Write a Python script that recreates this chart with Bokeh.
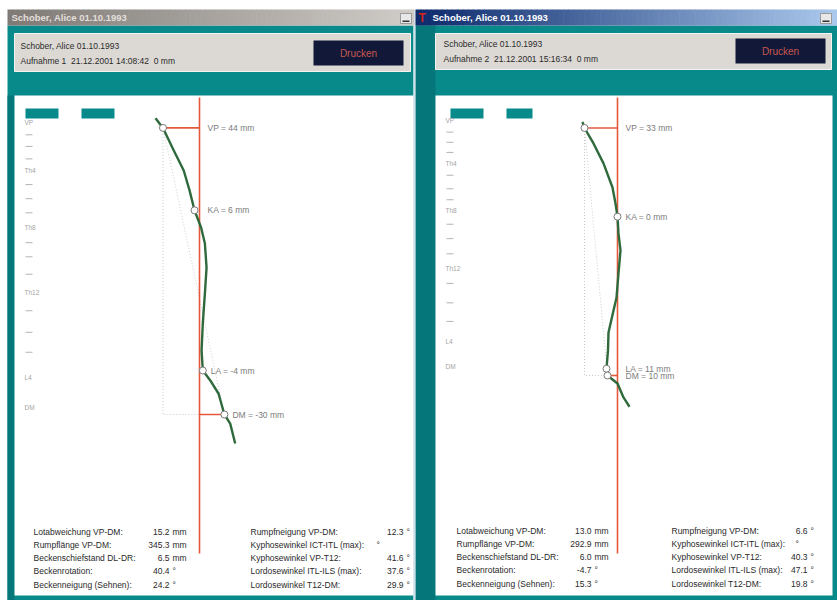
import numpy as np
from bokeh.plotting import figure
from bokeh.models import Range1d
from bokeh.core.properties import value
from bokeh.embed import file_html
from bokeh.resources import INLINE

# ---------------- data ----------------
patient = "Schober, Alice 01.10.1993"
recordings = ["Aufnahme 1\u00a0 21.12.2001 14:08:42\u00a0 0 mm",
              "Aufnahme 2\u00a0 21.12.2001 15:16:34\u00a0 0 mm"]
button_label = "Drucken"

# Recording 1 spine profile: x = offset from plumb line (mm, + = dorsal), h = height above DM (mm)
rec1_curve_x = [53, 44, 31, 19, 12, 6, -2, -6.5, -8.5, -6.5, -4, -2.5, -4, -13, -23, -30, -37, -43]
rec1_curve_h = [357, 345.3, 318, 294, 270, 246, 225, 206, 177, 146, 110, 77, 53, 41, 25, 0, -11, -35]
rec1_mark_names = ["VP", "KA", "LA", "DM"]
rec1_mark_x = [44, 6, -4, -30]
rec1_mark_h = [345.3, 246, 53, 0]
rec1_level_h = [352, 294, 225, 147, 45, 8]
rec1_tick_h = [337, 323, 308, 277, 260, 243, 207, 190, 169, 125, 99, 75]

# Recording 2 spine profile
rec2_curve_x = [35, 33, 24, 14, 5, 2, 0, -1, -3, -1, 1, 4, 9, 9.5, 11, 10, 0, -6, -12]
rec2_curve_h = [300, 292.9, 274.6, 251, 222.5, 203.6, 188, 168, 148, 121, 92, 77, 51, 30, 8, 0, -9.5, -26, -37]
rec2_mark_names = ["VP", "KA", "LA", "DM"]
rec2_mark_x = [33, 0, 11, 10]
rec2_mark_h = [292.9, 188, 8, 0]
rec2_level_h = [302, 251, 195, 127, 40, 11]
rec2_tick_h = [288, 276, 264, 237, 221, 208, 179, 162, 144, 109, 86, 64]

level_names = ["VP", "Th4", "Th8", "Th12", "L4", "DM"]

stat_names_a = ["Lotabweichung VP-DM:", "Rumpflänge VP-DM:", "Beckenschiefstand DL-DR:",
                "Beckenrotation:", "Beckenneigung (Sehnen):"]
stat_units_a = ["mm", "mm", "mm", "°", "°"]
stat_names_b = ["Rumpfneigung VP-DM:", "Kyphosewinkel ICT-ITL (max):", "Kyphosewinkel VP-T12:",
                "Lordosewinkel ITL-ILS (max):", "Lordosewinkel T12-DM:"]
rec1_stats_a = [15.2, 345.3, 6.5, 40.4, 24.2]
rec1_stats_b = [12.3, None, 41.6, 37.6, 29.9]
rec2_stats_a = [13.0, 292.9, 6.0, -4.7, 15.3]
rec2_stats_b = [6.6, None, 40.3, 47.1, 19.8]

# ---------------- styling ----------------
W, H = 837, 600
TEAL = "#088a8b"
TEAL_DARK = "#05767a"
RED = "#e4583c"
GREEN = "#2f6a3c"
FONT = value("Liberation Sans")

p = figure(width=W, height=H, x_range=Range1d(0, W), y_range=Range1d(H, 0),
           x_axis_type=None, y_axis_type=None, output_backend="svg",
           toolbar_location=None, min_border=0)
p.outline_line_color = None
p.background_fill_color = "white"
p.border_fill_color = "white"


def hex2rgb(c):
    c = c.lstrip("#")
    return np.array([int(c[i:i + 2], 16) for i in (0, 2, 4)], dtype=float)


def gradient_bar(x0, x1, y0, y1, c0, c1, n=80):
    xs = np.linspace(x0, x1, n + 1)
    a, b = hex2rgb(c0), hex2rgb(c1)
    cols = []
    for t in np.linspace(0, 1, n):
        r, g, bl = (a + (b - a) * t).round().astype(int)
        cols.append(f"#{r:02x}{g:02x}{bl:02x}")
    p.quad(left=xs[:-1], right=xs[1:] + 0.6, top=y0, bottom=y1,
           fill_color=cols, line_color=None)


def rect(l, r, t, b, color, line=None):
    p.quad(left=[l], right=[r], top=[t], bottom=[b], fill_color=color, line_color=line)


def txt(x, y, s, size="9px", color="#2a2a2a", align="left", style="normal"):
    xs = x if isinstance(x, list) else [x]
    ys = y if isinstance(y, list) else [y]
    ss = s if isinstance(s, list) else [s]
    p.text(x=xs, y=ys, text=ss, text_font=FONT, text_font_size=size, text_color=color,
           text_align=align, text_baseline="middle", text_font_style=style)


# window chrome
rect(7, 413, 25, 600, TEAL)
rect(415, 837, 25, 600, TEAL)
rect(7, 14, 95, 600, TEAL_DARK)
rect(415, 435, 25, 600, TEAL_DARK)
rect(413, 415, 9, 600, "#cfe2ea")
gradient_bar(7, 413, 9, 25, "#7f7a75", "#cfcbc6")
gradient_bar(415, 837, 9, 25, "#0c2a6c", "#aac8ec")
txt(11, 17, patient, size="9.5px", color="#e2dfdc", style="bold")
txt(432, 17, patient, size="9.5px", color="#ffffff", style="bold")
txt(418, 17, "T", size="12px", color="#d2261c", style="bold")
for l in (400, 820):
    rect(l, l + 11, 13, 23, "#e8e8e8", line="#9a9a9a")
    rect(l + 2, l + 9, 20, 21.5, "#333333")

windows = [
    dict(head=(14, 410, 33, 71), btn=(313, 403, 40, 65), tx=20, ty=(45, 60),
         plot=(14, 413), bars=[(25, 58), (81, 114)], rec=recordings[0]),
    dict(head=(435, 831, 33, 69), btn=(735, 825, 38, 63), tx=443, ty=(43, 58),
         plot=(435, 832), bars=[(450, 483), (506, 532)], rec=recordings[1]),
]
for w in windows:
    l, r, t, b = w["head"]
    rect(l, r, t, b, "#dcd9d4", line="#f4f3f1")
    bl, br, bt, bb = w["btn"]
    rect(bl, br, bt, bb, "#111838")
    txt((bl + br) / 2, (bt + bb) / 2, button_label, size="10px", color="#c9574f", align="center")
    txt(w["tx"], w["ty"][0], patient, size="8.5px")
    txt(w["tx"], w["ty"][1], w["rec"], size="8.5px")
    pl, pr = w["plot"]
    rect(pl, pr, 95, 595, "white")
    for a, c in w["bars"]:
        rect(a, c, 108, 118, TEAL)


# ---------------- profiles ----------------
xr, yr = {}, {}


def panel_ranges(name, plumb_px, dm_py, sx, sy):
    xr[name] = Range1d(plumb_px / sx, (plumb_px - W) / sx)
    yr[name] = Range1d((dm_py - H) / sy, dm_py / sy)


panel_ranges("rec1", 199, 414, 0.83, 0.83)
panel_ranges("rec2", 617, 375, 1.0, 0.845)
p.extra_x_ranges = xr
p.extra_y_ranges = yr


def draw_profile(name, plumb_px, dm_py, sx, sy, cx, ch, names, mx, mh,
                 level_h, tick_h, tick_px):
    kw = dict(x_range_name=name, y_range_name=name)

    def to_x(px):
        return (plumb_px - px) / sx

    def to_h(py):
        return (dm_py - py) / sy

    vx, vh, dx, dh = mx[0], mh[0], mx[-1], mh[-1]
    # construction lines for the plumb deviation
    p.line([vx, vx, 0], [vh, dh, dh], line_color="#c9c9c9", line_dash="1 2", line_width=1, **kw)
    p.line([vx, dx], [vh, dh], line_color="#cdcdcd", line_dash="1 2", line_width=1, **kw)
    # plumb line and offsets
    p.segment(x0=[0], y0=[to_h(97)], x1=[0], y1=[to_h(553)], line_color=RED, line_width=1.6, **kw)
    p.segment(x0=[vx, dx], y0=[vh, dh], x1=[0, 0], y1=[vh, dh], line_color=RED, line_width=1.6, **kw)
    # spine curve and landmarks
    p.line(cx, ch, line_color=GREEN, line_width=2.4, **kw)
    p.scatter(mx, mh, size=7, fill_color="white", line_color="#7a7a7a", line_width=1, **kw)
    p.text(x=[min(v, 0) for v in mx], y=mh, text=[f"{n} = {v:g} mm" for n, v in zip(names, mx)],
           x_offset=8, text_font=FONT, text_font_size="8.5px", text_color="#7c7c7c",
           text_baseline="middle", **kw)
    # level scale
    p.segment(x0=[to_x(tick_px)] * len(tick_h), x1=[to_x(tick_px + 7)] * len(tick_h),
              y0=tick_h, y1=tick_h, line_color="#b4b4b4", line_width=1, **kw)
    p.text(x=[to_x(tick_px - 1)] * len(level_h), y=level_h, text=level_names,
           text_font=FONT, text_font_size="6.5px", text_color="#a4a4a4",
           text_baseline="middle", **kw)


draw_profile("rec1", 199, 414, 0.83, 0.83, rec1_curve_x, rec1_curve_h, rec1_mark_names,
             rec1_mark_x, rec1_mark_h, rec1_level_h, rec1_tick_h, 25)
draw_profile("rec2", 617, 375, 1.0, 0.845, rec2_curve_x, rec2_curve_h, rec2_mark_names,
             rec2_mark_x, rec2_mark_h, rec2_level_h, rec2_tick_h, 446)


# ---------------- statistics ----------------
def draw_stats(lab_a, num_a, lab_b, num_b, deg_b, y_top, vals_a, vals_b):
    ys = [y_top + 13.3 * i for i in range(5)]
    size = "8.5px"
    txt([lab_a] * 5, ys, stat_names_a, size=size)
    txt([num_a] * 5, ys, [f"{v:.1f}" for v in vals_a], size=size, align="right")
    txt([num_a + 3] * 5, ys, stat_units_a, size=size)
    txt([lab_b] * 5, ys, stat_names_b, size=size)
    rows = [i for i, v in enumerate(vals_b) if v is not None]
    txt([num_b] * len(rows), [ys[i] for i in rows], [f"{vals_b[i]:.1f}" for i in rows],
        size=size, align="right")
    txt([num_b + 3] * len(rows), [ys[i] for i in rows], ["°"] * len(rows), size=size)
    empty = [i for i, v in enumerate(vals_b) if v is None]
    txt([deg_b] * len(empty), [ys[i] for i in empty], ["°"] * len(empty), size=size)


draw_stats(33, 169, 250, 403, 376, 531, rec1_stats_a, rec1_stats_b)
draw_stats(456, 591, 671, 807, 795, 530, rec2_stats_a, rec2_stats_b)

open("out.html", "w").write(file_html(p, INLINE))
